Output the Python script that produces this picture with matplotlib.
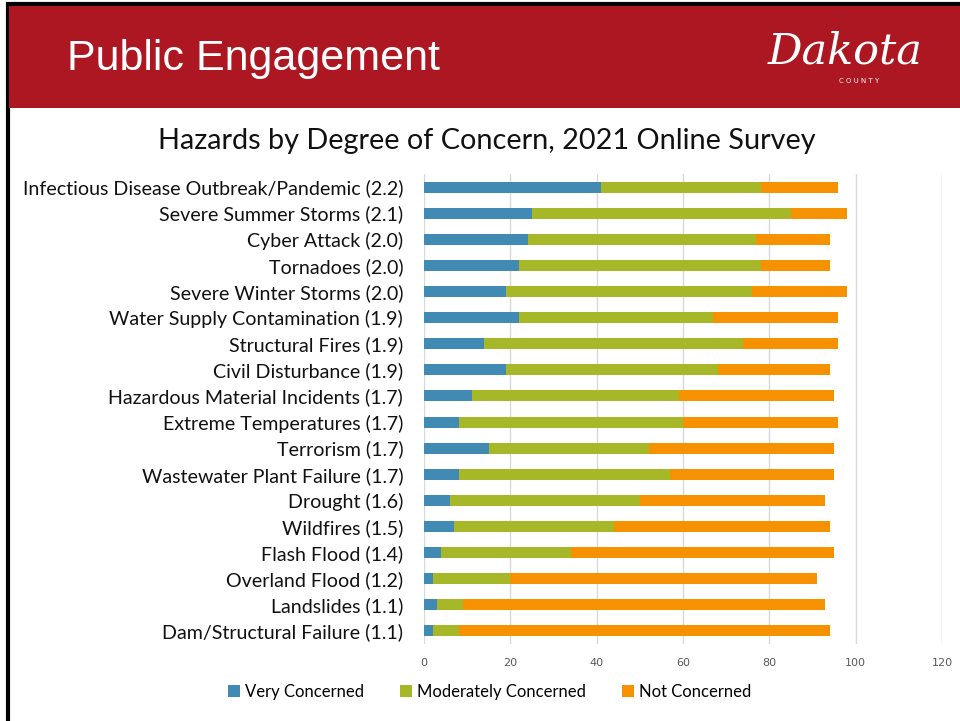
import matplotlib.pyplot as plt
import numpy as np
from matplotlib.patches import Rectangle

# Hazard categories (top to bottom) and bar segments
hazards = [
    "Infectious Disease Outbreak/Pandemic (2.2)",
    "Severe Summer Storms (2.1)",
    "Cyber Attack (2.0)",
    "Tornadoes (2.0)",
    "Severe Winter Storms (2.0)",
    "Water Supply Contamination (1.9)",
    "Structural Fires (1.9)",
    "Civil Disturbance (1.9)",
    "Hazardous Material Incidents (1.7)",
    "Extreme Temperatures (1.7)",
    "Terrorism (1.7)",
    "Wastewater Plant Failure (1.7)",
    "Drought (1.6)",
    "Wildfires (1.5)",
    "Flash Flood (1.4)",
    "Overland Flood (1.2)",
    "Landslides (1.1)",
    "Dam/Structural Failure (1.1)",
]
very = [41, 25, 24, 22, 19, 22, 14, 19, 11, 8, 15, 8, 6, 7, 4, 2, 3, 2]
moderately = [37, 60, 53, 56, 57, 45, 60, 49, 48, 52, 37, 49, 44, 37, 30, 18, 6, 6]
not_concerned = [18, 13, 17, 16, 22, 29, 22, 26, 36, 36, 43, 38, 43, 50, 61, 71, 84, 86]
series_names = ["Very Concerned", "Moderately Concerned", "Not Concerned"]
colors = ["#418AB3", "#A6B727", "#F69200"]
xticks = [0, 20, 40, 60, 80, 100, 120]

fig = plt.figure(figsize=(9.6, 7.21), dpi=100)

# slide frame and red header band (run off the right/bottom edges)
fig.patches.append(Rectangle((0.0085, -0.05), 1.05, 1.044, transform=fig.transFigure,
                             facecolor="white", edgecolor="black", linewidth=3, zorder=0))
fig.patches.append(Rectangle((0.0095, 0.85), 1.0, 0.141, transform=fig.transFigure,
                             facecolor="#AC1721", edgecolor="none", zorder=1))
fig.text(0.07, 0.918, "Public Engagement", color="white", fontsize=31,
         family=["Liberation Sans Narrow", "Liberation Sans"], va="center", ha="left")
fig.text(0.88, 0.928, "Dakota", color="white", fontsize=31, family="DejaVu Serif",
         style="italic", ha="center", va="center")
fig.text(0.895, 0.888, "C O U N T Y", color="white", fontsize=5, ha="center", va="center")

fig.text(0.507, 0.804, "Hazards by Degree of Concern, 2021 Online Survey",
         fontsize=20.8, family="Lato", ha="center", va="center", color="#111111")

ax = fig.add_axes([0.4417, 0.1068, 0.5396, 0.6519])
ax.set_zorder(3)
y = np.arange(len(hazards))
left = np.zeros(len(hazards))
for vals, name, c in zip([very, moderately, not_concerned], series_names, colors):
    ax.barh(y, vals, left=left, height=0.42, color=c, label=name, zorder=3)
    left += np.array(vals)

ax.set_ylim(len(hazards) - 0.5, -0.5)
ax.set_xlim(0, 120)
ax.set_xticks(xticks)
ax.set_yticks(y)
ax.set_yticklabels(hazards, fontsize=14.1, family="Lato", color="#111111")
ax.tick_params(axis="x", labelsize=8, colors="#595959", length=0, pad=10)
ax.tick_params(axis="y", length=0, pad=15)
ax.grid(axis="x", color="#D9D9D9", linewidth=1, zorder=0)
ax.patch.set_alpha(0)
for s in ax.spines.values():
    s.set_visible(False)

leg = fig.legend(loc="center", bbox_to_anchor=(0.51, 0.04), ncol=3, frameon=False,
                 prop={"family": "Lato", "size": 12}, handlelength=0.7, handleheight=0.7,
                 handletextpad=0.3, columnspacing=2.2)
leg.set_zorder(4)

plt.savefig("out.png")
